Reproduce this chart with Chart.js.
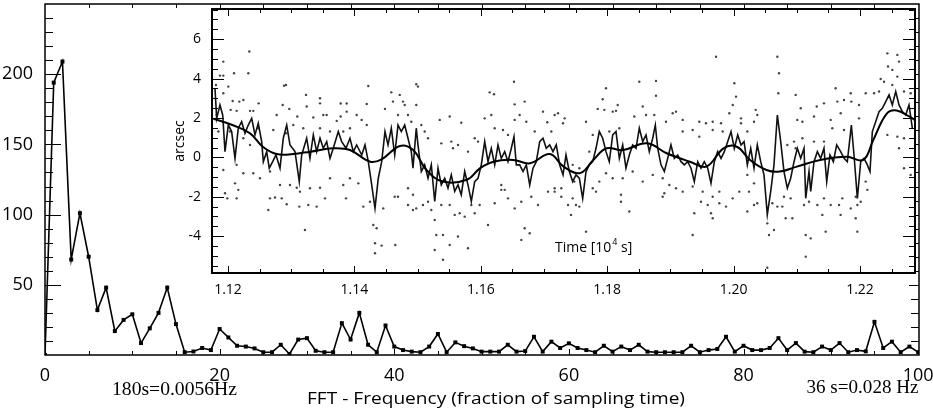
<!DOCTYPE html>
<html>
<head>
<meta charset="utf-8">
<script src="https://cdn.jsdelivr.net/npm/chart.js@4.4.1/dist/chart.umd.min.js"></script>
<style>
  body { margin: 0; background: #fff; }
  #wrap { position: relative; width: 933px; height: 414px; }
  #main { position: absolute; left: 0; top: 0; }
  #inset { position: absolute; left: 160px; top: 0; }
</style>
</head>
<body>
<div id="wrap">
  <canvas id="main" width="933" height="414"></canvas>
  <canvas id="inset" width="765" height="300"></canvas>
</div>
<script>
// FFT spectrum (main plot)
const fftFreq = [0,1,2,3,4,5,6,7,8,9,10,11,12,13,14,15,16,17,18,19,20,21,22,23,24,25,26,27,28,29,30,
  31,32,33,34,35,36,37,38,39,40,41,42,43,44,45,46,47,48,49,50,51,52,53,54,55,56,57,58,59,60,
  61,62,63,64,65,66,67,68,69,70,71,72,73,74,75,76,77,78,79,80,81,82,83,84,85,86,87,88,89,90,
  91,92,93,94,95,96,97,98,99,100];
const fftPower = [0,194,209,68,101,70,32,48,17,25,29,8.5,19,30,48,22,2,2.5,5,3.5,18.5,
  12.5,6.6,6,4.7,2,2,7.3,0.7,11,12,3,2,2,22.7,11,30,7.3,2,21,6,
  3.5,2.4,2,6,15,2,9,6.3,4.7,2.4,2.4,2.4,7.3,2.4,2.8,13,2.4,9.5,5,8.3,
  5,3.5,2,6.6,2.4,6,3.5,7.3,2.4,2,2,2,2,6.6,2,3.5,4.3,13,2.4,6.6,
  3.5,3.5,5,12,3.5,8.5,2.4,2,6,3.5,8.5,2,3.5,2.6,23.6,5,9.5,2,6,2];
const mainXTicks = [0, 20, 40, 60, 80, 100];
const mainYTicks = [50, 100, 150, 200];

// inset: time [10^4 s] vs arcsec
const insetXTicks = [1.12, 1.14, 1.16, 1.18, 1.20, 1.22];
const insetYTicks = [-4, -2, 0, 2, 4, 6];

const dotsA = [[1.12338,5.37],[1.11926,4.86],[1.12095,4.27],[1.12322,4.27],[1.11873,4.15],[1.11926,4.15],[1.11810,3.67],[1.12918,3.67],[1.12886,3.64],[1.12005,3.59],[1.11926,3.25],[1.13234,3.17],[1.13456,3.0],[1.14220,3.62],[1.13456,2.74],[1.12243,2.91],[1.12074,2.86],[1.12179,2.83],[1.12485,2.74],[1.12865,2.66],[1.13245,2.58],[1.13783,2.73],[1.13878,2.73],[1.14195,2.71],[1.14484,2.46],[1.12042,2.41],[1.12137,2.36],[1.12348,2.36],[1.12400,2.36],[1.12970,2.46],[1.11821,2.15],[1.12770,2.15],[1.13097,2.07],[1.13350,2.02],[1.13508,2.15],[1.13561,2.15],[1.13878,2.32],[1.14036,2.15],[1.13783,2.07],[1.14115,1.9],[1.13720,1.85],[1.14195,1.64],[1.11847,1.31],[1.12480,1.48],[1.12717,1.39],[1.12918,1.22],[1.13033,1.64],[1.13191,1.48],[1.13456,1.48],[1.13614,1.31],[1.13824,1.31],[1.13930,1.48],[1.12032,1.31],[1.12243,0.97],[1.12348,0.63],[1.11926,-0.64],[1.12137,-0.38],[1.12243,-0.81],[1.12400,-0.81],[1.12506,-1.06],[1.12665,-0.72],[1.12823,-1.4],[1.12981,-1.4],[1.13087,-1.54],[1.13139,-1.74],[1.13297,-1.57],[1.13456,-1.54],[1.13614,-1.06],[1.13824,-1.4],[1.13930,-1.06],[1.14062,-1.32],[1.12111,-1.32],[1.12163,-1.65],[1.11953,-1.82],[1.12137,-2.08],[1.12665,-2.08],[1.12744,-2.04],[1.12850,-2.08],[1.12929,-2.38],[1.12638,-2.67],[1.13128,-2.5],[1.13271,-2.42],[1.13403,-2.5],[1.13535,-2.08],[1.13867,-2.08],[1.14141,-2.5],[1.14247,-2.25],[1.14299,-3.43],[1.14352,-3.6],[1.14457,-2.59],[1.13218,-3.69],[1.14326,-4.36],[1.14431,-4.48],[1.14326,-4.87],[1.11989,-2.08]];
const dotsB = [[1.14584,3.3],[1.14717,3.17],[1.14769,2.83],[1.14796,2.66],[1.14979,3.71],[1.15006,3.59],[1.14979,2.66],[1.14611,2.83],[1.14690,2.15],[1.14848,2.15],[1.14900,1.81],[1.15059,1.64],[1.15112,1.31],[1.15165,0.97],[1.15350,1.9],[1.15508,2.07],[1.15691,1.76],[1.15533,0.8],[1.15375,0.71],[1.15560,0.46],[1.15639,0.63],[1.15797,0.29],[1.15903,0.97],[1.15956,0.8],[1.16062,1.98],[1.16166,2.15],[1.16140,3.3],[1.16209,3.2],[1.16525,3.84],[1.16536,2.69],[1.16694,2.83],[1.16615,2.15],[1.16536,1.9],[1.16720,1.81],[1.16853,1.31],[1.16220,1.48],[1.16351,1.39],[1.16430,1.14],[1.16984,2.32],[1.17052,1.78],[1.17116,1.31],[1.17169,2.15],[1.17222,2.24],[1.17301,1.73],[1.17327,1.98],[1.14638,-2.0],[1.14690,-2.0],[1.14848,-2.42],[1.14927,-2.67],[1.14979,-2.59],[1.15085,-2.42],[1.15165,-2.25],[1.15217,-2.67],[1.15271,-3.18],[1.15375,-2.42],[1.15508,-2.42],[1.15587,-2.92],[1.15666,-2.84],[1.15745,-3.01],[1.15903,-2.84],[1.15850,-2.42],[1.15982,-2.42],[1.16114,-3.43],[1.16220,-2.33],[1.16324,-1.65],[1.16430,-2.08],[1.16536,-2.59],[1.16641,-2.25],[1.16694,-3.6],[1.16774,-3.85],[1.16641,-4.19],[1.16799,-2.0],[1.16905,-2.42],[1.17063,-1.74],[1.17169,-1.74],[1.17274,-2.0],[1.17380,-2.42],[1.15296,-3.94],[1.15402,-3.94],[1.15508,-4.45],[1.15639,-4.02],[1.15797,-4.61],[1.15402,-5.2],[1.14647,-4.45],[1.15271,-4.7],[1.16324,-1.4],[1.16378,-1.65],[1.17169,-1.57],[1.17274,-1.57],[1.14848,-1.57],[1.14927,-1.9]];
const dotsC = [[1.19722,5.11],[1.18508,3.84],[1.18772,3.88],[1.17981,3.51],[1.18772,3.13],[1.20011,3.76],[1.20038,3.08],[1.17929,2.95],[1.17850,2.46],[1.17955,2.41],[1.18087,2.32],[1.18166,2.66],[1.18139,2.36],[1.18562,2.58],[1.18429,2.07],[1.18614,2.15],[1.18745,2.15],[1.19036,2.24],[1.18930,1.81],[1.19089,2.32],[1.19194,1.9],[1.19457,1.81],[1.19563,1.73],[1.19669,1.81],[1.19801,1.73],[1.19932,2.24],[1.19986,2.66],[1.20117,1.98],[1.20117,1.73],[1.17665,1.81],[1.17771,1.14],[1.18034,1.31],[1.18192,1.48],[1.19194,1.31],[1.19352,1.39],[1.19457,1.05],[1.19669,1.39],[1.19827,1.31],[1.17717,0.29],[1.17454,-0.38],[1.17559,-0.55],[1.17771,-1.57],[1.17875,-1.23],[1.17981,-0.81],[1.18087,-1.06],[1.18245,-1.06],[1.18403,-0.72],[1.18562,-1.23],[1.18720,-0.89],[1.18878,-1.06],[1.18983,-1.4],[1.19089,-1.57],[1.19194,-1.74],[1.19352,-1.48],[1.19510,-1.74],[1.19669,-2.0],[1.19774,-2.33],[1.19880,-2.5],[1.19986,-2.08],[1.20090,-1.74],[1.17454,-2.08],[1.17506,-2.42],[1.17427,-2.92],[1.17559,-2.5],[1.17823,-1.74],[1.18218,-1.9],[1.18218,-2.25],[1.18350,-2.75],[1.18904,-1.82],[1.18878,-2.0],[1.19378,-2.84],[1.19484,-2.25],[1.19590,-2.42],[1.19642,-2.84],[1.19669,-3.09],[1.19352,-3.94],[1.17665,-3.77],[1.19774,-1.74],[1.17480,-1.23]];
const dotsD = [[1.20692,5.11],[1.20718,4.27],[1.20707,3.25],[1.20982,3.17],[1.21062,2.49],[1.21315,2.58],[1.21430,2.74],[1.21615,3.51],[1.21641,2.83],[1.21747,2.91],[1.21853,3.25],[1.21863,2.83],[1.21984,2.66],[1.22090,3.25],[1.22222,3.25],[1.22327,3.98],[1.22301,3.34],[1.22433,5.28],[1.22591,5.2],[1.22617,4.86],[1.22443,4.61],[1.22511,4.44],[1.22380,3.84],[1.22511,3.67],[1.22591,4.1],[1.22696,3.34],[1.22802,3.25],[1.20349,2.41],[1.20375,2.15],[1.20217,1.31],[1.20323,1.81],[1.21008,1.9],[1.21088,1.81],[1.21272,2.07],[1.21536,1.9],[1.21562,1.48],[1.21694,2.24],[1.21984,1.98],[1.21747,1.39],[1.21430,0.8],[1.21088,0.97],[1.20956,0.8],[1.20850,0.63],[1.20982,0.46],[1.21272,0.8],[1.22433,1.14],[1.22591,1.05],[1.22696,0.97],[1.22617,0.46],[1.22696,-0.55],[1.22802,-0.89],[1.20217,-0.89],[1.20323,-1.32],[1.20244,-1.74],[1.20323,-2.42],[1.20375,-2.33],[1.20217,-2.75],[1.20613,-2.33],[1.20692,-2.5],[1.20797,-2.0],[1.20903,-2.08],[1.20771,-2.5],[1.20824,-3.09],[1.20929,-3.09],[1.21114,-2.42],[1.21193,-2.25],[1.21325,-2.42],[1.21430,-2.08],[1.21536,-2.42],[1.21668,-2.42],[1.21720,-2.08],[1.21853,-2.59],[1.21932,-2.0],[1.21958,-2.42],[1.22011,-2.25],[1.22116,-1.65],[1.22090,-1.23],[1.20533,-3.35],[1.20560,-3.94],[1.20639,-3.69],[1.21141,-3.94],[1.21220,-4.11],[1.21404,-2.92],[1.21457,-3.77],[1.21693,-2.92],[1.21932,-3.09],[1.21958,-3.77],[1.21141,-5.04],[1.20533,-5.6]];

const noiseA = [[1.11794,3.5],[1.11821,1.98],[1.11873,2.66],[1.11916,2.15],[1.11953,0.29],[1.12005,1.64],[1.12058,1.31],[1.12111,-0.05],[1.12163,1.48],[1.12216,1.81],[1.12269,1.22],[1.12321,1.64],[1.12375,1.98],[1.12427,1.14],[1.12479,1.73],[1.12533,0.8],[1.12559,-0.22],[1.12612,0.29],[1.12653,-0.55],[1.12707,-0.22],[1.12759,0.12],[1.12823,-0.55],[1.12875,0.97],[1.12929,1.64],[1.12981,0.63],[1.13060,0.29],[1.13128,-1.23],[1.13166,0.12],[1.13245,0.97],[1.13297,-0.05],[1.13350,1.14],[1.13403,0.29],[1.13456,0.97],[1.13508,0.46],[1.13562,0.8],[1.13614,-0.05],[1.13666,0.46],[1.13745,1.31],[1.13799,0.8],[1.13867,0.46],[1.13930,0.97],[1.13983,0.29],[1.14036,0.63],[1.14116,0.12],[1.14168,0.63],[1.14220,-0.22],[1.14274,-1.4],[1.14326,-2.59],[1.14378,-1.06],[1.14432,-0.22],[1.14484,1.31]];
const noiseB = [[1.14532,0.63],[1.14584,1.48],[1.14638,0.12],[1.14690,1.64],[1.14742,1.31],[1.14796,1.64],[1.14848,0.97],[1.14900,0.29],[1.14927,-0.55],[1.14979,1.48],[1.15006,0.63],[1.15059,-0.72],[1.15112,-0.38],[1.15165,-1.06],[1.15217,-0.38],[1.15271,-2.24],[1.15323,-0.55],[1.15375,-1.4],[1.15429,-1.06],[1.15481,-1.56],[1.15533,-0.89],[1.15587,-1.73],[1.15639,-1.4],[1.15691,-1.9],[1.15745,-0.72],[1.15797,-1.4],[1.15850,-2.24],[1.15903,-1.23],[1.15956,-1.06],[1.16008,-0.38],[1.16062,0.8],[1.16114,-0.22],[1.16166,0.46],[1.16220,-0.38],[1.16272,0.63],[1.16324,-0.05],[1.16378,0.29],[1.16430,-0.22],[1.16483,0.46],[1.16525,1.05],[1.16562,-0.38],[1.16615,-0.38],[1.16668,-0.72],[1.16720,-0.38],[1.16774,-1.4],[1.16826,-0.55],[1.16878,-0.22],[1.16932,0.8],[1.16984,0.97],[1.17036,0.46],[1.17090,0.63],[1.17142,0.29],[1.17194,0.63],[1.17248,-0.38],[1.17301,-0.89]];
const noiseC = [[1.17348,0.12],[1.17401,-0.72],[1.17454,-1.23],[1.17506,-0.89],[1.17559,-1.06],[1.17612,-2.08],[1.17665,-0.72],[1.17717,-0.38],[1.17771,-0.22],[1.17823,0.46],[1.17875,1.31],[1.17929,0.97],[1.17981,0.29],[1.18033,-0.22],[1.18087,1.14],[1.18139,1.31],[1.18192,-0.05],[1.18245,0.63],[1.18297,-0.55],[1.18350,0.12],[1.18403,0.63],[1.18456,0.46],[1.18508,1.48],[1.18562,0.8],[1.18614,1.14],[1.18666,0.29],[1.18720,0.97],[1.18761,1.64],[1.18799,0.46],[1.18851,-0.38],[1.18904,-0.72],[1.18957,-0.05],[1.19009,0.63],[1.19062,-0.05],[1.19116,0.12],[1.19168,-0.22],[1.19220,-0.38],[1.19274,-0.22],[1.19326,-0.55],[1.19378,-1.23],[1.19432,-0.22],[1.19484,-0.55],[1.19536,-0.22],[1.19590,-0.55],[1.19642,-1.31],[1.19695,-0.22],[1.19748,0.29],[1.19801,-0.05],[1.19853,0.29],[1.19907,0.8],[1.19959,1.31],[1.20011,0.46],[1.20065,1.14],[1.20117,0.63]];
const noiseD = [[1.20165,0.8],[1.20217,-0.38],[1.20271,0.46],[1.20323,-0.55],[1.20375,0.63],[1.20429,-0.22],[1.20481,-0.89],[1.20533,-2.91],[1.20587,-1.73],[1.20639,-0.38],[1.20692,2.15],[1.20745,0.8],[1.20797,-0.72],[1.20850,-1.56],[1.20903,-1.06],[1.20956,-0.22],[1.21008,0.46],[1.21062,-0.05],[1.21114,0.46],[1.21141,-2.08],[1.21193,-0.72],[1.21220,-1.73],[1.21272,-0.22],[1.21325,0.29],[1.21378,-0.05],[1.21430,0.46],[1.21473,-1.23],[1.21525,0.12],[1.21578,-0.22],[1.21631,0.63],[1.21694,0.29],[1.21747,-0.05],[1.21799,-0.22],[1.21863,1.64],[1.21905,0.12],[1.21958,-2.08],[1.22011,-0.22],[1.22063,-0.05],[1.22116,-0.38],[1.22158,-0.72],[1.22195,1.31],[1.22248,1.81],[1.22301,2.32],[1.22353,2.49],[1.22407,2.83],[1.22459,3.17],[1.22511,2.66],[1.22565,3.34],[1.22617,2.66],[1.22670,2.32],[1.22723,2.15],[1.22775,2.66],[1.22828,1.48]];

const smooth = [[1.1177,1.96],[1.1208,1.63],[1.1235,1.22],[1.1255,0.54],[1.1277,0.17],[1.1303,0.17],[1.1330,0.29],[1.1367,0.46],[1.1393,0.37],[1.1425,-0.22],[1.1443,-0.1],[1.1472,0.58],[1.1493,0.37],[1.1514,-0.64],[1.1540,-1.23],[1.1578,-1.14],[1.1599,-0.55],[1.1620,-0.22],[1.1651,-0.13],[1.1678,-0.3],[1.1709,0.17],[1.1731,-0.47],[1.1757,-0.8],[1.1778,-0.13],[1.1799,0.46],[1.1825,0.37],[1.1863,0.71],[1.1894,0.21],[1.1931,-0.22],[1.1957,-0.47],[1.1984,0.46],[1.2005,0.54],[1.2026,-0.13],[1.2052,-0.64],[1.2073,-0.72],[1.2100,-0.47],[1.2137,-0.13],[1.2179,0.03],[1.2205,-0.13],[1.2221,0.88],[1.2242,2.21],[1.2258,2.38],[1.2279,2.05],[1.2287,1.9]];

const SANS = '"Open Sans", "DejaVu Sans", sans-serif';
const SERIF = '"Liberation Serif", "DejaVu Serif", serif';
const pairs = arr => arr.map(p => ({ x: p[0], y: p[1] }));

// inward tick marks on all four sides of the plot area
function tickMarks(chart, axis, values, lenOf) {
  const { ctx, chartArea: a } = chart;
  const s = chart.scales[axis];
  ctx.save();
  ctx.strokeStyle = '#000';
  ctx.lineWidth = 1;
  values.forEach(v => {
    const p = Math.round(s.getPixelForValue(v)) + 0.5;
    const L = lenOf(v);
    ctx.beginPath();
    if (axis === 'y') {
      ctx.moveTo(a.left, p); ctx.lineTo(a.left + L[0], p);
      ctx.moveTo(a.right, p); ctx.lineTo(a.right - L[1], p);
    } else {
      ctx.moveTo(p, a.bottom); ctx.lineTo(p, a.bottom - L[0]);
      ctx.moveTo(p, a.top); ctx.lineTo(p, a.top + L[1]);
    }
    ctx.stroke();
  });
  ctx.restore();
}

// text squeezed/stretched to the width it has in the picture
function fitText(ctx, text, cx, cy, width, font) {
  ctx.save();
  ctx.font = font;
  const w = ctx.measureText(text).width;
  ctx.translate(cx, cy);
  ctx.scale(width / w, 1);
  ctx.textAlign = 'center';
  ctx.textBaseline = 'middle';
  ctx.fillStyle = '#000';
  ctx.fillText(text, 0, 0);
  ctx.restore();
}

const noPad = s => { s.paddingLeft = 0; s.paddingRight = 0; s.paddingTop = 0; s.paddingBottom = 0; };

const mainDecor = {
  id: 'mainDecor',
  afterDraw(chart) {
    const { ctx, chartArea: a } = chart;
    const yv = [], xv = [];
    for (let v = 10; v < 250; v += 10) yv.push(v);
    for (let v = 5; v < 100; v += 5) xv.push(v);
    tickMarks(chart, 'y', yv, v => (v % 50 === 0 ? [16, 10] : [8, 8]));
    tickMarks(chart, 'x', xv, v => (v % 20 === 0 ? [6, 6] : [4, 4]));
    ctx.save();
    ctx.strokeStyle = '#000';
    ctx.lineWidth = 1.5;
    ctx.strokeRect(a.left, a.top, a.right - a.left, a.bottom - a.top);
    ctx.restore();
    fitText(ctx, '180s=0.0056Hz', 174.5, 390, 125, '19px ' + SERIF);
    fitText(ctx, '36 s=0.028 Hz', 862.5, 388, 112, '19px ' + SERIF);
    fitText(ctx, 'FFT - Frequency (fraction of sampling time)', 496, 399, 378, '17px ' + SANS);
  }
};

new Chart(document.getElementById('main'), {
  type: 'line',
  data: {
    datasets: [{
      data: fftFreq.map((f, i) => ({ x: f, y: fftPower[i] })),
      borderColor: '#000',
      borderWidth: 1.6,
      pointStyle: 'rect',
      pointRadius: 2.8,
      pointBackgroundColor: '#000',
      pointBorderWidth: 0,
      tension: 0,
    }],
  },
  options: {
    responsive: false,
    animation: false,
    events: [],
    layout: { padding: { top: 3, right: 14, left: 0, bottom: 0 } },
    plugins: { legend: { display: false }, tooltip: { enabled: false } },
    scales: {
      x: {
        type: 'linear', min: 0, max: 100.1,
        grid: { display: false }, border: { display: false },
        afterBuildTicks: s => { s.ticks = mainXTicks.map(v => ({ value: v })); },
        afterFit: s => { s.height = 59; noPad(s); },
        ticks: { color: '#000', font: { family: SANS, size: 18 }, padding: 2, maxRotation: 0, autoSkip: false },
      },
      y: {
        min: 0, max: 250,
        grid: { display: false }, border: { display: false },
        afterBuildTicks: s => { s.ticks = mainYTicks.map(v => ({ value: v })); },
        afterFit: s => { s.width = 45; noPad(s); },
        ticks: { color: '#000', font: { family: SANS, size: 18 }, padding: 4, autoSkip: false },
      },
    },
  },
  plugins: [mainDecor],
});

const insetDecor = {
  id: 'insetDecor',
  beforeDatasetsDraw(chart) {
    const { ctx, chartArea: a } = chart;
    ctx.save();
    ctx.fillStyle = '#fff';
    ctx.fillRect(a.left, a.top, a.right - a.left, a.bottom - a.top);
    ctx.restore();
  },
  afterDraw(chart) {
    const { ctx, chartArea: a } = chart;
    const yv = [], xv = [];
    for (let k = -11; k <= 15; k++) yv.push(k / 2);
    for (let k = 0; k <= 21; k++) xv.push(1.12 + k * 0.005);
    tickMarks(chart, 'y', yv, v => (v % 2 === 0 ? [12, 12] : [6, 6]));
    tickMarks(chart, 'x', xv, v => (Math.round(v * 1000) % 20 === 0 ? [7, 7] : [4, 4]));
    ctx.save();
    ctx.strokeStyle = '#000';
    ctx.lineWidth = 2;
    ctx.strokeRect(a.left, a.top, a.right - a.left, a.bottom - a.top);
    // axis names
    ctx.fillStyle = '#000';
    ctx.font = '14px ' + SANS;
    ctx.textBaseline = 'middle';
    ctx.save();
    ctx.translate(20, 141);
    ctx.rotate(-Math.PI / 2);
    ctx.textAlign = 'center';
    ctx.fillText('arcsec', 0, 0);
    ctx.restore();
    ctx.textAlign = 'left';
    const x0 = 395, yb = 248;
    ctx.fillText('Time [10', x0, yb);
    let w = ctx.measureText('Time [10').width;
    ctx.font = '9px ' + SANS;
    ctx.fillText('4', x0 + w + 1, yb - 6);
    w += ctx.measureText('4').width + 1;
    ctx.font = '14px ' + SANS;
    ctx.fillText(' s]', x0 + w, yb);
    ctx.restore();
  }
};

new Chart(document.getElementById('inset'), {
  data: {
    datasets: [
      { type: 'line', data: pairs(smooth), borderColor: '#000', borderWidth: 2, pointRadius: 0, tension: 0.4, order: 0 },
      { type: 'line', data: pairs([...noiseA, ...noiseB, ...noiseC, ...noiseD]), borderColor: '#111', borderWidth: 1.6, pointRadius: 0, tension: 0, order: 1 },
      { type: 'scatter', data: pairs([...dotsA, ...dotsB, ...dotsC, ...dotsD]), pointRadius: 1.2, pointBackgroundColor: '#444', pointBorderWidth: 0, order: 2 },
    ],
  },
  options: {
    responsive: false,
    animation: false,
    events: [],
    layout: { padding: { top: 9, right: 10, left: 0, bottom: 0 } },
    plugins: { legend: { display: false }, tooltip: { enabled: false } },
    scales: {
      x: {
        type: 'linear', min: 1.11747, max: 1.2287,
        grid: { display: false }, border: { display: false },
        afterBuildTicks: s => { s.ticks = insetXTicks.map(v => ({ value: v })); },
        afterFit: s => { s.height = 27; noPad(s); },
        ticks: { color: '#000', font: { family: SANS, size: 14 }, padding: 1, maxRotation: 0, autoSkip: false,
                 callback: v => v.toFixed(2) },
      },
      y: {
        type: 'linear', min: -5.87, max: 7.53,
        grid: { display: false }, border: { display: false },
        afterBuildTicks: s => { s.ticks = insetYTicks.map(v => ({ value: v })); },
        afterFit: s => { s.width = 52; noPad(s); },
        ticks: { color: '#000', font: { family: SANS, size: 14 }, padding: 3, autoSkip: false },
      },
    },
  },
  plugins: [insetDecor],
});
</script>
</body>
</html>
